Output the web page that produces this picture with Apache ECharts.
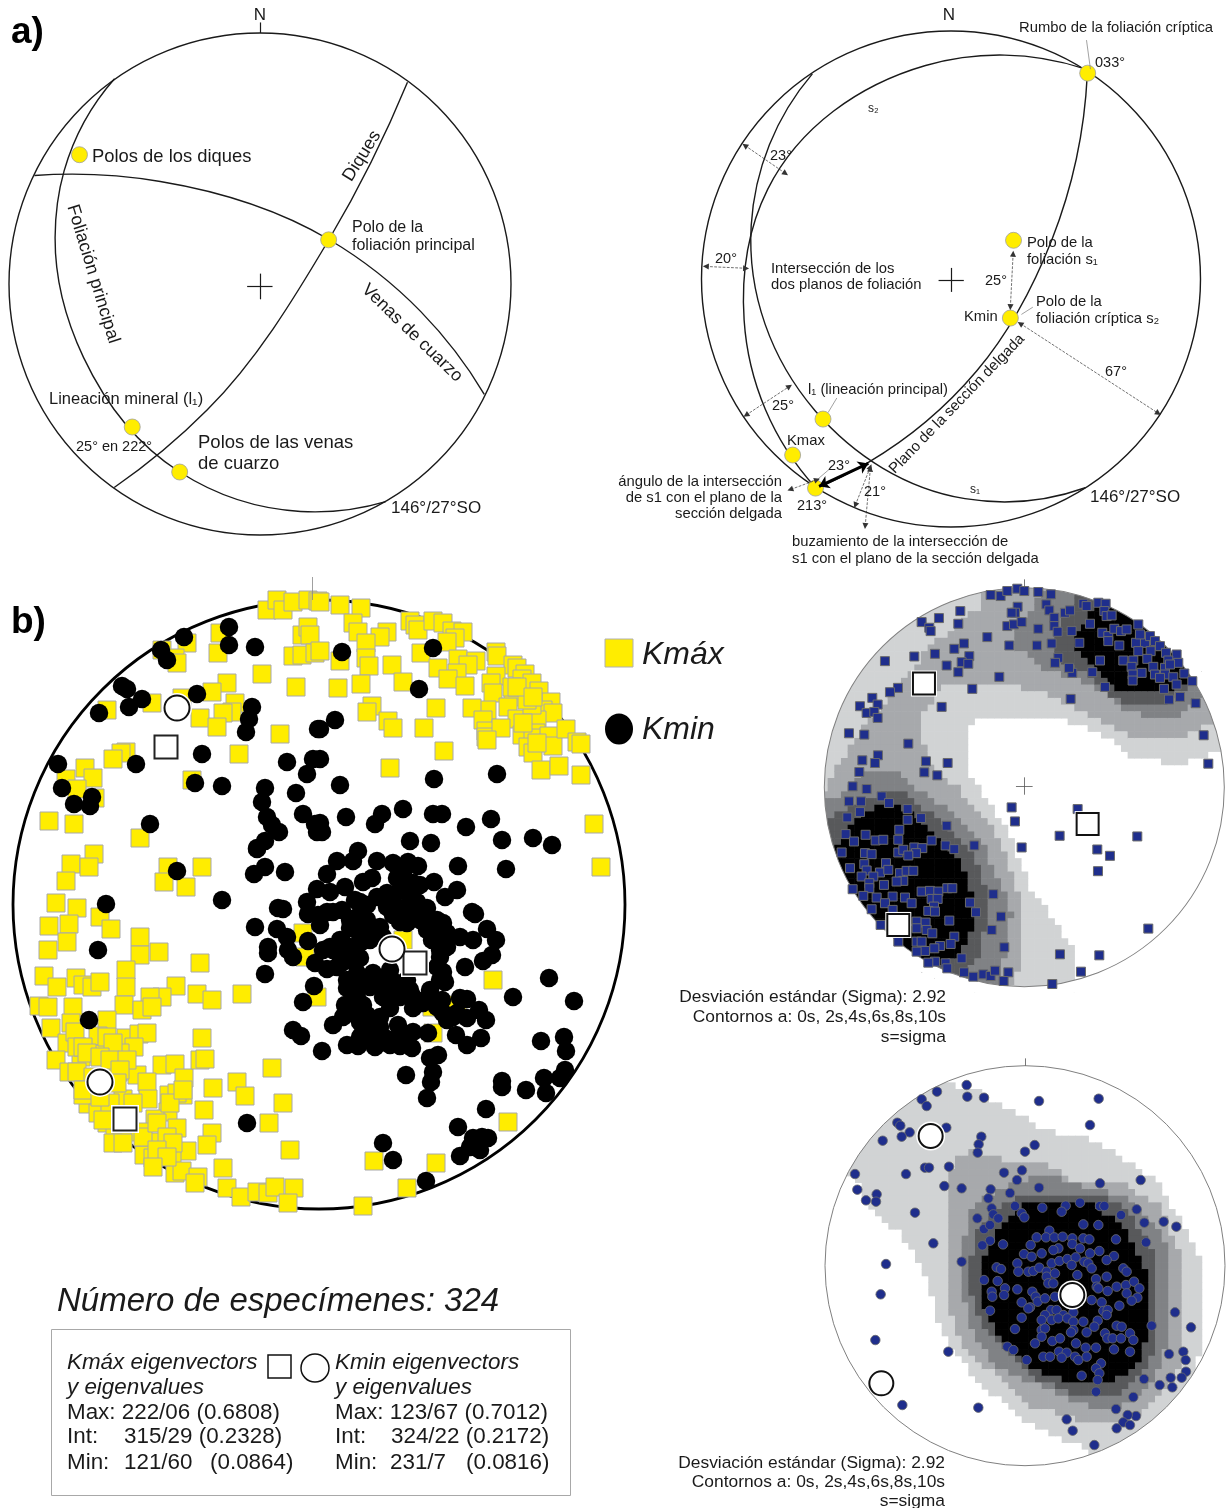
<!DOCTYPE html>
<html>
<head>
<meta charset="utf-8">
<title>Fábrica magnética</title>
<script src="https://cdn.jsdelivr.net/npm/echarts@6/dist/echarts.min.js"></script>
<style>
  html, body { margin: 0; background: #fff; }
  #chart { width: 1227px; height: 1508px; }
</style>
</head>
<body>
<div id="chart"></div>
<script>
// ---- a) left net, arcs and poles
const aLeftFoliacion = [[343,228],[192,490],[165,680],[250,1020],[538,1346],[900,1458],[1155,1430]]
const aLeftVenas = [[103,503],[480,520],[985,685],[1260,890],[1450,1125]]
const aLeftDiques = [[1220,238],[985,685],[620,1170],[342,1390]]
const aLeftPoles = [[238,444],[984,686],[396,1218],[538,1346]]
const aLeftMarks = [[[778,98],[778,68]],[[740,818],[816,818]],[[778,782],[778,855]]]

// ---- a) right net
const aRightS1 = [[513,203],[358,620],[520,1130],[900,1372],[1205,1342]]
const aRightS2 = [[1200,188],[800,180],[400,520],[340,880],[520,1340]]
const aRightSeccion = [[1210,205],[1120,660],[930,1020],[655,1272],[520,1345]]
const aRightPoles = [[1211,201],[1023,661],[1015,875],[540,1153],[463,1252],[521,1343]]
const aRightMarks = [[[833,770],[897,770]],[[865,737],[865,803]]]
const aRightLeaders = [[[1208,110],[1218,190]],[[1043,865],[1072,845]],[[575,1095],[553,1135]],[[555,1292],[525,1320]]]
const aRightAngles = [[[342,400],[445,477]],[[243,733],[345,738]],[[345,1142],[455,1063]],[[1040,890],[1390,1137]],[[1022,698],[1015,845]],[[525,1320],[457,1347]],[[622,1390],[660,1285]],[[660,1290],[647,1447]]]
const aRightThick = [[[530,1338],[655,1275]]]

// ---- b) main net
const mainKmax = [[267,610],[277,600],[283,610],[293,602],[308,600],[318,601],[220,633],[218,653],[187,643],[162,650],[175,658],[177,663],[302,635],[308,627],[310,635],[293,656],[302,655],[315,653],[262,674],[296,687],[227,683],[212,692],[182,698],[152,703],[107,710],[235,703],[232,712],[223,713],[200,718],[217,727],[280,734],[239,754],[126,752],[121,753],[113,759],[85,768],[93,778],[66,779],[77,789],[95,798],[192,780],[49,821],[74,824],[140,838],[94,854],[71,864],[89,867],[66,881],[168,867],[202,867],[164,882],[186,887],
[320,602],[340,605],[361,608],[353,623],[358,632],[387,632],[380,637],[366,643],[366,658],[369,666],[340,661],[320,651],[392,665],[361,684],[338,688],[403,682],[410,621],[415,625],[418,630],[433,621],[443,623],[452,631],[463,632],[455,638],[447,642],[421,653],[438,668],[458,659],[476,661],[468,665],[457,673],[448,679],[465,686],[496,652],[497,656],[513,665],[517,668],[525,674],[522,679],[532,683],[496,676],[491,683],[493,693],[513,697],[539,691],[551,702],[543,710],[553,713],[508,707],[517,719],[537,720],[532,705],[487,710],[472,708],[483,720],[486,731],[486,737],[501,728],[522,735],[536,733],[533,738],[549,736],[553,746],[566,729],[577,742],[581,744],[528,747],[533,753],[541,770],[559,766],[581,775],[372,706],[367,712],[388,721],[393,728],[436,708],[424,728],[444,751],[390,768],[594,824],[601,867],
[512,687],[527,700],[517,687],[533,697],[523,723],[537,743],[487,740],
[56,903],[77,908],[100,917],[111,929],[49,926],[69,924],[67,942],[48,950],[140,937],[140,955],[159,952],[200,963],[126,970],[44,976],[57,987],[76,978],[83,985],[92,987],[100,982],[126,987],[176,986],[162,997],[150,997],[197,994],[212,1000],[242,994],[39,1006],[48,1007],[73,1007],[124,1005],[142,1010],[152,1007],[51,1028],[71,1023],[107,1020],[67,1043],[75,1032],[98,1036],[112,1044],[126,1038],[139,1034],[147,1033],[134,1047],[202,1038],[56,1060],[81,1057],[103,1054],[120,1053],[69,1072],[77,1072],[118,1072],[162,1065],[175,1064],[184,1078],[200,1060],[205,1059],[272,1068],[137,1075],[147,1082],[237,1082],[245,1096],[213,1088],[169,1095],[183,1095],[88,1104],[83,1095],[148,1099],[123,1099],[168,1112],[204,1110],[283,1103],[269,1123],[98,1113],[155,1119],[177,1128],[140,1132],[107,1123],[115,1130],[122,1138],[212,1133],[207,1145],[187,1151],[290,1150],[158,1142],[144,1155],[153,1158],[172,1155],[223,1168],[175,1173],[182,1171],[198,1177],[195,1183],[227,1188],[241,1197],[257,1192],[268,1193],[275,1187],[294,1188],[288,1203],
[77,1047],[83,1047],[87,1053],[107,1037],[113,1043],[100,1057],[110,1060],[127,1060],[120,1070],[93,1077],[117,1083],[83,1090],[110,1103],[133,1103],[100,1097],[127,1120],[143,1137],[157,1123],[167,1137],[173,1143],[103,1120],[113,1143],[123,1143],[177,1093],[170,1103],[183,1090],[157,1150],[167,1157],[153,1167],
[493,980],[508,1122],[374,1161],[436,1163],[407,1188],[363,1206],[433,1033],[403,940],[457,1005],[432,1007],[317,997],[303,933],[305,957]]

const mainKmin = [[229,627],[229,645],[255,647],[184,637],[161,650],[167,660],[122,686],[127,689],[142,699],[129,707],[99,713],[197,694],[252,707],[249,719],[246,732],[202,754],[136,764],[58,764],[62,788],[92,797],[74,804],[90,806],[195,783],[222,786],[150,824],[177,871],[254,874],[265,867],[285,872],[287,762],[313,759],[307,774],[318,729],[265,788],[262,802],[296,793],[303,814],[267,817],[272,825],[279,832],[315,824],[317,832],[265,841],[257,849],[165,748],
[342,652],[433,648],[419,689],[335,720],[320,729],[434,779],[497,774],[340,785],[320,759],[346,817],[382,814],[375,824],[403,809],[433,814],[442,814],[466,827],[491,819],[410,841],[431,843],[502,840],[533,838],[552,845],[458,866],[506,869],[320,823],[322,832],
[257,848],[337,861],[358,851],[353,861],[377,861],[393,863],[408,862],[418,866],[327,874],[345,887],[330,892],[317,889],[363,882],[372,878],[403,873],[403,883],[420,885],[434,882],[457,890],[445,897],[307,902],[278,908],[283,909],[308,914],[327,912],[342,910],[360,902],[377,897],[393,897],[410,895],[417,902],[427,908],[400,922],[357,917],[367,920],[320,925],[255,927],[277,929],[287,937],[443,923],[428,927],[472,912],[475,914],[487,929],[460,937],[473,940],[496,940],[350,928],[377,932],[360,935],[308,941],[435,937],[447,947],[330,947],[268,947],[268,953],[288,950],[293,957],[340,955],[355,953],[315,963],[327,969],[347,960],[492,955],[483,961],[465,967],[440,957],[443,972],[445,982],[265,974],[314,986],[303,1002],[357,973],[373,973],[390,970],[347,988],[363,983],[380,982],[397,983],[410,990],[430,990],[460,998],[467,999],[442,1000],[425,1000],[413,1008],[390,1008],[345,1005],[363,1005],[443,1013],[453,1017],[467,1018],[479,1010],[486,1020],[333,1025],[360,1022],[375,1022],[343,1017],[398,1025],[413,1032],[428,1033],[293,1030],[301,1036],[456,1035],[481,1038],[467,1045],[377,1037],[368,1040],[385,1038],[347,1045],[358,1046],[375,1047],[390,1045],[400,1046],[412,1048],[322,1051],[438,1055],[430,1058],
[350,920],[363,927],[383,937],[360,943],[343,943],[333,950],[343,962],[360,958],[340,940],[387,893],[400,890],[413,883],[397,878],[407,907],[397,907],[413,913],[425,917],[437,920],[432,940],[427,930],[440,950],[437,967],[440,980],[353,980],[370,987],[387,987],[400,987],[347,980],[387,977],[407,980],[357,997],[390,997],[400,997],[350,1013],[367,1015],[363,1027],[373,1030],[380,1040],[360,1037],[423,1003],[437,1007],[447,1020],[457,1013],[390,1040],
[318,915],[333,912],[355,900],[367,905],[387,907],[393,915],[407,923],[420,920],[323,950],[350,947],[337,967],[380,927],[370,940],[383,997],[413,997],[433,1000],[440,940],[447,933],[357,1013],[380,1017],[380,1027],[403,1040],
[513,997],[549,978],[574,1001],[541,1041],[564,1037],[566,1051],[565,1070],[560,1078],[544,1078],[546,1093],[526,1090],[502,1081],[502,1087],[486,1109],[458,1127],[482,1137],[473,1138],[488,1138],[480,1150],[470,1147],[460,1156],[383,1143],[393,1160],[426,1181],[406,1075],[433,1072],[431,1082],[427,1098],
[106,904],[222,900],[98,950],[89,1020],[247,1123]]

const mainOpenSquares = [[166,747],[125,1119],[415,963]]
const mainOpenCircles = [[177,708],[100,1082],[392,949]]
const keyKmax = [[619,653]]
const keyKmin = [[619,729]]
const mainTick = [[[312,577],[312,600]]]

// ---- b) upper contoured net (Kmax)
const net1Points = [[527,62],[557,65],[577,50],[607,43],[628,50],[670,53],[708,60],[694,90],[703,108],[718,130],[750,115],[765,108],[608,97],[600,115],[590,115],[577,155],[597,150],[620,143],[670,163],[718,155],[728,172],[770,170],[517,188],[583,213],[666,213],[710,207],[825,148],[805,88],[815,95],[850,85],[872,88],[868,110],[875,125],[890,123],[862,175],[880,185],[880,200],[898,163],[918,170],[935,165],[793,205],[913,213],[963,205],[990,205],[970,150],[975,180],[1005,185],[1020,200],[1035,215],[970,230],[1007,230],[1053,235],[1085,240],[855,258],[925,258],[955,258],[997,253],[1060,258],[1090,265],[950,277],[1015,277],[1050,280],[1065,270],[980,295],[953,300],[953,318],[1020,300],[1050,300],[1075,308],[1035,310],[1085,330],[1108,297],[1132,320],[1047,343],[870,337],[832,293],[772,295],[762,280],[730,250],[720,265],[767,373],[1062,375],[1095,367],[1142,386],[1166,482],[1180,567],
[436,110],[372,131],[430,148],[320,143],[343,160],[347,170],[447,207],[418,223],[360,238],[298,246],[463,245],[440,263],[460,268],[395,273],[430,293],[210,260],[553,307],[472,343],[249,340],[225,353],[172,370],[135,395],[188,390],[155,415],[178,412],[188,430],[380,397],[102,476],[148,480],[280,507],[142,557],[189,542],[180,565],[133,592],[333,560],[398,565],[328,593],[367,602],[113,635],[155,643],[102,680],[138,680],[200,665],[222,685],[278,703],[135,712],[97,728],[318,730],[278,735],[395,753],[253,765],[92,778],[117,800],[152,780],[182,797],[205,795],[250,795],[80,833],[150,835],[170,838],[250,833],[265,825],[298,818],[322,820],[303,835],[280,842],[350,797],[392,812],[418,823],[478,812],[105,880],[148,868],[155,887],[213,865],[195,893],[140,905],[175,905],[220,885],[255,895],[275,888],[295,888],[265,918],[245,920],[207,930],[163,925],[163,940],[113,943],[145,963],[185,968],[233,965],[270,968],[320,950],[345,948],[370,950],[397,940],[412,940],[350,972],[368,972],[290,985],[210,985],[170,1003],[233,1005],[357,995],[340,1008],[360,1010],[465,983],[483,1012],[535,958],[403,1037],[558,1025],[197,1050],[305,1040],[332,1043],[305,1060],[335,1065],[352,1075],[530,1065],[418,1085],[250,1100],[305,1100],[320,1100],[407,1107],[568,1117],[375,1113],[358,1120],[330,1128],[305,1130],[440,1150],[360,1160],[340,1163],[392,1165],[397,1180],[447,1192],[475,1205],[505,1198],[527,1203],[540,1187],[580,1192],[566,1218],[712,1227],[798,1190],[735,1138],[853,1141],[1000,1061],[590,698],[600,740],[620,818],[734,783],[788,703],[967,785],[847,824],[885,843],[849,889]]
const net1OpenSquares = [[327,327],[818,748],[250,1050]]
const net1Tick = [[[628,15],[628,40]],[[603,634],[653,634]],[[628,608],[628,660]]]
const net1White = [[500,420],[715,422],[760,445],[850,470],[920,520],[950,545],[1100,568],[1180,540],[1300,515],[1300,1300],[775,1300],[770,1120],[740,1070],[680,985],[640,930],[610,850],[575,760],[520,680],[465,610],[450,510],[465,460]]
const net1Mid = [[510,-20],[510,40],[490,100],[430,150],[340,220],[310,260],[270,300],[210,380],[150,450],[100,520],[60,590],[35,650],[-20,700],[-20,1300],[585,1300],[585,1230],[610,1180],[625,1120],[610,960],[560,800],[500,720],[430,640],[370,600],[345,560],[325,500],[320,430],[380,340],[515,320],[650,345],[730,370],[810,420],[920,470],[960,490],[1100,490],[1170,450],[1300,400],[1300,-20]]
const net1Dark3NE = [[720,0],[660,85],[620,140],[590,190],[610,225],[680,280],[770,310],[860,350],[900,390],[1000,430],[1090,430],[1150,370],[1300,340],[1300,0]]
const net1Dark3SW = [[-20,700],[70,660],[130,600],[190,580],[260,600],[330,660],[420,720],[500,800],[540,890],[570,960],[590,1020],[580,1100],[555,1190],[530,1300],[-20,1300]]
const net1Dark4NE = [[780,0],[780,90],[730,150],[715,230],[740,265],[800,290],[860,340],[900,375],[960,400],[1040,390],[1135,330],[1300,280],[1300,0]]
const net1Dark4SW = [[-20,760],[90,700],[190,660],[270,660],[340,710],[420,770],[480,850],[520,960],[520,1020],[490,1150],[450,1200],[400,1300],[-20,1300]]
const net1BlackNE = [[860,85],[790,160],[775,200],[800,250],[850,285],[900,345],[1050,348],[1150,320],[1260,250],[1000,50]]
const net1BlackSW = [[100,760],[130,730],[190,690],[240,690],[300,720],[350,770],[420,840],[465,930],[480,1040],[440,1130],[400,1165],[350,1180],[100,1000],[40,850]]

// ---- b) lower contoured net (Kmin)
const net2Points = [[455,90],[366,110],[457,125],[507,128],[320,133],[335,153],[672,138],[851,131],[825,210],[247,203],[256,212],[394,218],[284,232],[260,245],[203,257],[499,245],[491,268],[488,293],[659,270],[630,290],[330,338],[342,338],[402,335],[273,357],[120,357],[567,353],[621,346],[606,375],[388,393],[440,400],[127,404],[185,418],[153,436],[183,440],[300,473],[527,403],[585,414],[672,398],[855,385],[977,375],[520,430],[600,453],[530,460],[535,478],[550,490],[487,490],[620,475],[628,487],[682,458],[752,452],[740,470],[795,443],[855,453],[868,453],[918,480],[965,463],[988,503],[1046,500],[1084,515],[507,522],[525,510],[525,557],[502,571],[355,565],[564,568],[805,508],[850,510],[703,527],[665,547],[693,547],[718,547],[743,545],[772,550],[805,550],[823,553],[903,553],[993,562],[647,570],[680,595],[730,580],[715,585],[772,567],[795,580],[825,595],[853,588],[897,603],[875,615],[627,597],[650,605],[213,627],[440,620],[545,637],[558,642],[607,625],[610,650],[640,650],[655,648],[673,638],[710,625],[733,618],[757,612],[782,607],[770,630],[808,620],[820,625],[830,640],[925,640],[935,650],[695,650],[695,665],[720,655],[787,660],[843,672],[875,665],[507,675],[548,678],[700,685],[715,685],[845,695],[905,695],[933,690],[957,680],[973,700],[197,718],[570,700],[607,703],[530,710],[567,720],[532,725],[652,710],[662,725],[620,742],[645,757],[668,740],[690,730],[720,725],[830,735],[860,742],[878,708],[850,700],[935,715],[967,728],[950,737],[913,752],[525,767],[1080,772],[640,760],[708,765],[725,765],[690,780],[745,780],[775,772],[865,768],[878,765],[875,780],[620,788],[680,795],[710,795],[730,790],[757,790],[775,800],[805,800],[848,797],[1010,812],[1128,817],[600,822],[680,825],[690,820],[775,825],[768,832],[815,832],[838,815],[905,812],[920,815],[870,835],[945,835],[680,845],[712,858],[735,850],[783,865],[660,865],[877,850],[893,850],[918,850],[955,855],[181,855],[400,890],[577,875],[595,885],[732,890],[755,893],[843,878],[812,878],[897,883],[945,890],[1062,897],[1105,890],[1112,915],[635,915],[685,905],[705,905],[740,908],[780,905],[790,915],[815,905],[1113,950],[858,925],[843,940],[853,955],[800,962],[848,975],[987,972],[1067,968],[1100,968],[1034,990],[1072,997],[843,1010],[955,1026],[262,1050],[490,1058],[903,1062],[963,1083],[938,1080],[925,1102],[945,1110],[755,1093],[905,1120],[773,1127],[838,1170]]
const net2HaloCircles = [[347,243],[772,720]]
const net2PlainCircle = [[199,985]]
const net2Tick = [[[630,10],[630,32]]]
const net2Light = [[400,88],[470,100],[540,140],[640,195],[700,230],[790,240],[860,270],[960,330],[1035,385],[1110,530],[1150,600],[1170,720],[1165,860],[1140,940],[1280,960],[900,1280],[800,1170],[740,1155],[650,1110],[570,1050],[500,985],[430,910],[370,800],[345,700],[325,650],[295,600],[260,540],[200,485],[145,440],[140,390],[60,340],[250,60]]
const net2Mid = [[395,400],[420,310],[470,290],[600,325],[700,325],[760,375],[850,375],[920,385],[1040,450],[1060,530],[1110,600],[1110,850],[1090,950],[1050,1010],[950,1090],[860,1110],[800,1100],[640,1050],[580,990],[490,920],[430,850],[400,750],[400,680],[395,550]]
const net2Dark3 = [[450,540],[470,460],[520,420],[570,400],[640,370],[700,360],[800,390],[880,415],[960,440],[1040,540],[1060,600],[1060,850],[1030,950],[950,1050],[830,1060],[700,1000],[620,970],[540,930],[470,830],[445,720]]
const net2Dark4 = [[465,620],[490,520],[560,450],[630,420],[780,415],[880,430],[950,480],[1020,600],[1030,850],[980,960],[900,1020],[780,1020],[660,970],[560,880],[490,790],[465,700]]
const net2Black = [[505,620],[520,570],[560,510],[630,450],[830,450],[900,490],[960,570],[990,640],[1005,800],[990,870],[970,920],[910,970],[770,985],[650,945],[560,860],[510,770],[500,690]]

const bandColors = ['#ffffff', '#d1d3d4', '#a7a9ac', '#808285', '#58595b', '#000000']
const FONT = '"Liberation Sans", Arial, sans-serif'
const YELLOW = '#ffed00'
const NAVY = '#1f2e8c'

const chart = echarts.init(document.getElementById('chart'))

// one grid per net, axes run in the units the points were read in
const nets = [
  { left: 9, top: 33, width: 502, height: 502, x: [27, 1530], y: [98, 1525] },
  { left: 701.5, top: 31, width: 499, height: 496, x: [232, 1497], y: [85, 1450] },
  { left: 13, top: 600, width: 612, height: 609, x: [13, 625], y: [600, 1209] },
  { left: 824.3, top: 587.7, width: 400, height: 399, x: [28, 1228], y: [40, 1235] },
  { left: 825, top: 1065.7, width: 400, height: 400, x: [30, 1230], y: [32, 1232] }
]

function inPoly(x, y, poly) {
  let inside = false
  for (let i = 0, j = poly.length - 1; i < poly.length; j = i++) {
    const a = poly[i], b = poly[j]
    if ((a[1] > y) !== (b[1] > y) && x < (b[0] - a[0]) * (y - a[1]) / (b[1] - a[1]) + a[0]) inside = !inside
  }
  return inside
}

// contour map is blocky in the source, so the outlines get gridded into cells
function gridBands(net, base, layers) {
  const cells = [], step = 20
  const cx = (net.x[0] + net.x[1]) / 2, cy = (net.y[0] + net.y[1]) / 2
  const r = (net.x[1] - net.x[0]) / 2
  for (let x = net.x[0] - step; x <= net.x[1] + step; x += step) {
    for (let y = net.y[0] - step; y <= net.y[1] + step; y += step) {
      if (Math.hypot(x - cx, y - cy) > r + step) continue
      let level = base
      layers.forEach(l => { if (inPoly(x, y, l[1])) level = l[0] })
      if (level > 0) cells.push([x, y, level])
    }
  }
  return cells
}

function axes() {
  return {
    xAxis: nets.map((n, i) => ({ type: 'value', gridIndex: i, show: false, min: n.x[0], max: n.x[1] })),
    yAxis: nets.map((n, i) => ({ type: 'value', gridIndex: i, show: false, min: n.y[0], max: n.y[1], inverse: true }))
  }
}

function onNet(i, extra) {
  return Object.assign({ xAxisIndex: i, yAxisIndex: i, silent: true, animation: false, clip: false }, extra)
}

// great circles: near-circular curve through the read points
function arc(i, data) {
  return onNet(i, { type: 'custom', data, z: 3,
    renderItem(params, api) {
      if (params.dataIndex !== 0) return null
      const p = data.map(d => api.coord(d))
      const n = p.length
      const dist = (a, b) => Math.hypot(a[0] - b[0], a[1] - b[1])
      const unit = (a, b) => { const l = dist(a, b); return [(b[0] - a[0]) / l, (b[1] - a[1]) / l] }
      // tangent of the circle through three neighbours
      const tan = p.map((q, k) => {
        if (k === 0 || k === n - 1) return null
        const da = dist(p[k - 1], q), dc = dist(q, p[k + 1])
        const u = unit(p[k - 1], q), v = unit(q, p[k + 1])
        const t = [(u[0] * dc + v[0] * da) / (da + dc), (u[1] * dc + v[1] * da) / (da + dc)]
        const l = Math.hypot(t[0], t[1])
        return [t[0] / l, t[1] / l]
      })
      const mirror = (t, c) => {
        const s = 2 * (t[0] * c[0] + t[1] * c[1])
        return [s * c[0] - t[0], s * c[1] - t[1]]
      }
      tan[0] = mirror(tan[1], unit(p[0], p[1]))
      tan[n - 1] = mirror(tan[n - 2], unit(p[n - 2], p[n - 1]))
      let d = 'M' + p[0][0] + ' ' + p[0][1]
      for (let k = 0; k < n - 1; k++) {
        const b = p[k], c = p[k + 1], chord = dist(b, c), w = unit(b, c)
        const cos = Math.min(1, Math.abs(tan[k][0] * w[0] + tan[k][1] * w[1]))
        const h = chord / (3 * (1 + cos) / 2)
        d += 'C' + (b[0] + tan[k][0] * h) + ' ' + (b[1] + tan[k][1] * h) + ' ' +
          (c[0] - tan[k + 1][0] * h) + ' ' + (c[1] - tan[k + 1][1] * h) + ' ' + c[0] + ' ' + c[1]
      }
      return { type: 'path', shape: { pathData: d }, style: { fill: 'none', stroke: '#1a1a1a', lineWidth: 1.4 } }
    } })
}

function dots(i, data, symbol, size, color, border, borderWidth, z) {
  return onNet(i, { type: 'scatter', data, symbol, symbolSize: size, z: z || 5,
    itemStyle: { color, borderColor: border, borderWidth, opacity: 1 } })
}

function segs(i, data, color, width, extra) {
  return onNet(i, Object.assign({ type: 'lines', coordinateSystem: 'cartesian2d', polyline: false,
    data: data.map(c => ({ coords: c })), symbol: 'none', z: 6,
    lineStyle: { color, width, opacity: 1 } }, extra))
}

function frame(i, width, color) {
  const n = nets[i]
  return dots(i, [[(n.x[0] + n.x[1]) / 2, (n.y[0] + n.y[1]) / 2]], 'circle', [n.width, n.height], 'transparent', color, width, 2)
}

function bands(i, cells) {
  return onNet(i, { type: 'custom', data: cells, progressive: 0, z: 1,
    renderItem(params, api) {
      const a = api.coord([api.value(0) - 10, api.value(1) - 10])
      const b = api.coord([api.value(0) + 10, api.value(1) + 10])
      return { type: 'rect', shape: { x: a[0], y: a[1], width: b[0] - a[0] + 0.6, height: b[1] - a[1] + 0.6 },
        style: { fill: bandColors[api.value(2)] } }
    } })
}

// white ring hiding cell corners past the net edge
function mask(i) {
  const n = nets[i]
  return dots(i, [[(n.x[0] + n.x[1]) / 2, (n.y[0] + n.y[1]) / 2]], 'circle', [n.width + 12, n.height + 12], 'transparent', '#ffffff', 12, 1.5)
}

function note(text, x, y, size, o) {
  o = o || {}
  return { type: 'text', x, y: y + Math.max(1, Math.round(size / 16)), z: 100, silent: true, rotation: (o.rot || 0) * Math.PI / 180,
    style: { text, fill: o.fill || '#1a1a1a', textAlign: o.align || 'left', textVerticalAlign: 'middle',
      font: (o.italic ? 'italic ' : '') + (o.bold ? 'bold ' : '') + size + 'px ' + FONT } }
}

const net1Cells = gridBands(nets[3], 1, [[0, net1White], [2, net1Mid], [3, net1Dark3NE], [3, net1Dark3SW], [4, net1Dark4NE], [4, net1Dark4SW], [5, net1BlackNE], [5, net1BlackSW]])
const net2Cells = gridBands(nets[4], 0, [[1, net2Light], [2, net2Mid], [3, net2Dark3], [4, net2Dark4], [5, net2Black]])

const series = [
  // a) left
  frame(0, 1.4, '#1a1a1a'),
  arc(0, aLeftFoliacion), arc(0, aLeftVenas), arc(0, aLeftDiques),
  segs(0, aLeftMarks, '#1a1a1a', 1.2),
  dots(0, aLeftPoles, 'circle', 16, YELLOW, '#a0a0a0', 0.8),
  // a) right
  frame(1, 1.4, '#1a1a1a'),
  arc(1, aRightS1), arc(1, aRightS2), arc(1, aRightSeccion),
  segs(1, aRightMarks, '#1a1a1a', 1.2),
  segs(1, aRightLeaders, '#8a8a8a', 0.8),
  segs(1, aRightAngles, '#333333', 0.7, { symbol: ['triangle', 'triangle'], symbolSize: 6,
    lineStyle: { color: '#333333', width: 0.7, opacity: 1, type: 'dashed' } }),
  segs(1, aRightThick, '#000000', 3, { symbol: ['arrow', 'arrow'], symbolSize: 10 }),
  dots(1, aRightPoles, 'circle', 16, YELLOW, '#a0a0a0', 0.8),
  // b) main
  frame(2, 2.8, '#000000'),
  segs(2, mainTick, '#888888', 0.8),
  dots(2, mainKmax, 'rect', 18, YELLOW, '#a8a8a8', 1, 4),
  dots(2, mainKmin, 'circle', 18.5, '#000000', '#000000', 0, 5),
  dots(2, mainOpenSquares, 'rect', 28, '#ffffff', '#ffffff', 0, 6),
  dots(2, mainOpenSquares, 'rect', 23, '#ffffff', '#222222', 2, 7),
  dots(2, mainOpenCircles, 'circle', 30, '#ffffff', '#ffffff', 0, 6),
  dots(2, mainOpenCircles, 'circle', 25, '#ffffff', '#111111', 2, 7),
  dots(2, keyKmax, 'rect', 28, YELLOW, '#b0b0b0', 1, 5),
  dots(2, keyKmin, 'circle', [28, 31], '#000000', '#000000', 0, 5),
  // b) Kmax contours
  bands(3, net1Cells), mask(3), frame(3, 1, '#808080'),
  segs(3, net1Tick, '#555555', 0.8),
  dots(3, net1Points, 'rect', 9, NAVY, '#6a6a6a', 1),
  dots(3, net1OpenSquares, 'rect', 26, '#ffffff', '#ffffff', 0, 6),
  dots(3, net1OpenSquares, 'rect', 22, '#ffffff', '#111111', 2, 7),
  // b) Kmin contours
  bands(4, net2Cells), mask(4), frame(4, 1, '#808080'),
  segs(4, net2Tick, '#555555', 0.8),
  dots(4, net2Points, 'circle', 9.5, NAVY, '#6a6a6a', 0.8),
  dots(4, net2HaloCircles, 'circle', 29, '#ffffff', '#ffffff', 0, 6),
  dots(4, net2HaloCircles, 'circle', 24, '#ffffff', '#111111', 2, 7),
  dots(4, net2PlainCircle, 'circle', 24, '#ffffff', '#111111', 2, 7)
]

const texts = [
  note('a)', 11, 31, 37, { bold: true, fill: '#000' }), note('b)', 11, 621, 37, { bold: true, fill: '#000' }),
  // left net
  note('N', 260, 14, 17, { align: 'center' }),
  note('Polos de los diques', 92, 156, 18.4),
  note('Polo de la', 352, 227, 16), note('foliación principal', 352, 245, 16),
  note('Diques', 362, 155, 18, { align: 'center', rot: 58 }),
  note('Foliación principal', 93, 273, 18, { align: 'center', rot: -73 }),
  note('Venas de cuarzo', 412, 332, 17.8, { align: 'center', rot: -44 }),
  note('Lineación mineral (l₁)', 49, 398, 16.5),
  note('25° en 222°', 76, 446, 14.5),
  note('Polos de las venas', 198, 442, 18.5), note('de cuarzo', 198, 463, 18.5),
  note('146°/27°SO', 391, 507, 17),
  // right net
  note('N', 949, 14, 17, { align: 'center' }),
  note('Rumbo de la foliación críptica', 1019, 27, 14.8),
  note('033°', 1095, 62, 14.5),
  note('s₂', 868, 108, 12),
  note('23°', 770, 155, 14.5), note('20°', 715, 258, 14.5), note('25°', 985, 280, 14.5),
  note('Intersección de los', 771, 268, 14.8), note('dos planos de foliación', 771, 284, 14.8),
  note('Polo de la', 1027, 242, 14.8), note('foliación s₁', 1027, 259, 14.8),
  note('Polo de la', 1036, 301, 14.8), note('foliación críptica s₂', 1036, 318, 14.8),
  note('Kmin', 964, 316, 14.8), note('67°', 1105, 371, 14.5),
  note('l₁ (lineación principal)', 808, 389, 14.8),
  note('25°', 772, 405, 14.5), note('Kmax', 787, 440, 14.8), note('23°', 828, 465, 14.5),
  note('Plano de la sección delgada', 957, 403, 15, { align: 'center', rot: 46 }),
  note('s₁', 970, 489, 12), note('146°/27°SO', 1090, 496, 17), note('21°', 864, 491, 14.5),
  note('ángulo de la intersección', 782, 481, 14.8, { align: 'right' }),
  note('de s1 con el plano de la', 782, 497, 14.8, { align: 'right' }),
  note('sección delgada', 782, 513, 14.8, { align: 'right' }),
  note('213°', 797, 505, 14.5),
  note('buzamiento de la intersección de', 792, 541, 14.8),
  note('s1 con el plano de la sección delgada', 792, 558, 14.8),
  // keys
  note('Kmáx', 642, 653, 32, { italic: true }), note('Kmin', 642, 728, 32, { italic: true }),
  note('Número de especímenes: 324', 57, 1300, 33, { italic: true }),
  note('Desviación estándar (Sigma): 2.92', 946, 996, 17.4, { align: 'right' }),
  note('Contornos a: 0s, 2s,4s,6s,8s,10s', 946, 1016, 17.4, { align: 'right' }),
  note('s=sigma', 946, 1036, 17.4, { align: 'right' }),
  note('Desviación estándar (Sigma): 2.92', 945, 1462, 17.4, { align: 'right' }),
  note('Contornos a: 0s, 2s,4s,6s,8s,10s', 945, 1481, 17.4, { align: 'right' }),
  note('s=sigma', 945, 1500, 17.4, { align: 'right' }),
  // eigenvector box
  { type: 'rect', z: 90, silent: true, shape: { x: 51.5, y: 1329.5, width: 519, height: 166 }, style: { fill: '#fff', stroke: '#a8a8a8', lineWidth: 1 } },
  { type: 'rect', z: 100, silent: true, shape: { x: 268, y: 1355, width: 23, height: 23 }, style: { fill: 'none', stroke: '#111', lineWidth: 1.5 } },
  { type: 'circle', z: 100, silent: true, shape: { cx: 315, cy: 1368, r: 14 }, style: { fill: 'none', stroke: '#111', lineWidth: 1.5 } },
  note('Kmáx eigenvectors', 67, 1362, 22.4, { italic: true }), note('y eigenvalues', 67, 1387, 22.4, { italic: true }),
  note('Max: 222/06 (0.6808)', 67, 1412, 22.4),
  note('Int:', 67, 1436, 22.4), note('315/29 (0.2328)', 124, 1436, 22.4),
  note('Min:', 67, 1462, 22.4), note('121/60', 124, 1462, 22.4), note('(0.0864)', 210, 1462, 22.4),
  note('Kmin eigenvectors', 335, 1362, 22.4, { italic: true }), note('y eigenvalues', 335, 1387, 22.4, { italic: true }),
  note('Max: 123/67 (0.7012)', 335, 1412, 22.4),
  note('Int:', 335, 1436, 22.4), note('324/22 (0.2172)', 391, 1436, 22.4),
  note('Min:', 335, 1462, 22.4), note('231/7', 390, 1462, 22.4), note('(0.0816)', 466, 1462, 22.4)
]

chart.setOption(Object.assign({
  backgroundColor: '#ffffff',
  animation: false,
  grid: nets.map(n => ({ left: n.left, top: n.top, width: n.width, height: n.height, show: false })),
  series,
  graphic: { elements: texts }
}, axes()))
</script>
</body>
</html>
